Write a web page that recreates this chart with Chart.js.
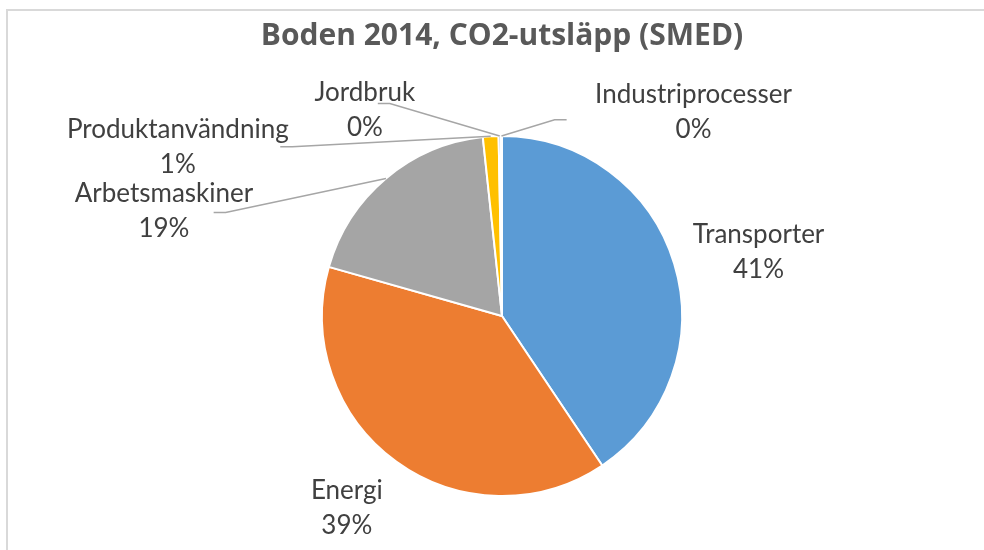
<!DOCTYPE html>
<html>
<head>
<meta charset="utf-8">
<script src="https://cdn.jsdelivr.net/npm/chart.js@4/dist/chart.umd.min.js"></script>
<style>
  html, body { margin: 0; padding: 0; background: #fff; }
  #wrap { width: 984px; height: 550px; position: relative; }
</style>
</head>
<body>
<div id="wrap"><canvas id="pie"></canvas></div>
<script>
// share of CO2 emissions, Boden 2014 (percent)
const categories = ['Transporter', 'Energi', 'Arbetsmaskiner', 'Produktanvändning', 'Jordbruk', 'Industriprocesser'];
const shares = [40.6, 38.8, 18.9, 1.4, 0.2, 0.1];
const pctLabels = ['41%', '39%', '19%', '1%', '0%', '0%'];
const colors = ['#5b9bd5', '#ed7d31', '#a5a5a5', '#ffc000', '#4472c4', '#70ad47'];

// where excel put each label, relative to pie centre in radius units
// line: start of leader line next to the label (null = no line)
const labelLayout = [
  { x: 1.425, y: -0.359, line: null },
  { x: -0.862, y: 1.066, line: null },
  { x: -1.878, y: -0.586, line: { x: -1.602, y: -0.575, dir: 1 } },
  { x: -1.801, y: -0.939, line: { x: -1.232, y: -0.94, dir: 1 } },
  { x: -0.762, y: -1.149, line: { x: -0.69, y: -1.18, dir: 1 } },
  { x: 1.064, y: -1.133, line: { x: 0.359, y: -1.09, dir: -1 } }
];

const labelFont = '26px Lato';
const labelColor = '#404040';

const frame = {
  id: 'frame',
  beforeDraw(chart) {
    const ctx = chart.ctx;
    ctx.save();
    ctx.fillStyle = '#fff';
    ctx.fillRect(0, 0, chart.width, chart.height);
    ctx.strokeStyle = '#d9d9d9';
    ctx.lineWidth = 2;
    ctx.beginPath();
    ctx.moveTo(7, chart.height);
    ctx.lineTo(7, 10);
    ctx.lineTo(chart.width, 10);
    ctx.stroke();
    ctx.restore();
  }
};

const outsideLabels = {
  id: 'outsideLabels',
  afterDatasetsDraw(chart) {
    const ctx = chart.ctx;
    const arcs = chart.getDatasetMeta(0).data;
    ctx.save();
    arcs.forEach((arc, i) => {
      const lay = labelLayout[i];
      const r = arc.outerRadius;
      const cx = arc.x, cy = arc.y;
      if (lay.line) {
        const mid = (arc.startAngle + arc.endAngle) / 2;
        const ex = cx + Math.cos(mid) * r;
        const ey = cy + Math.sin(mid) * r;
        const sx = cx + lay.line.x * r;
        const sy = cy + lay.line.y * r;
        ctx.strokeStyle = '#a6a6a6';
        ctx.lineWidth = 1.5;
        ctx.beginPath();
        ctx.moveTo(sx, sy);
        ctx.lineTo(sx + lay.line.dir * 12, sy);
        ctx.lineTo(ex, ey);
        ctx.stroke();
      }
      const tx = cx + lay.x * r;
      const ty = cy + lay.y * r;
      ctx.fillStyle = labelColor;
      ctx.font = labelFont;
      ctx.textAlign = 'center';
      ctx.textBaseline = 'middle';
      ctx.fillText(categories[i], tx, ty - 17);
      ctx.fillText(pctLabels[i], tx, ty + 18);
    });
    ctx.restore();
  }
};

new Chart(document.getElementById('pie'), {
  type: 'pie',
  data: {
    labels: categories,
    datasets: [{
      data: shares,
      backgroundColor: colors,
      borderColor: '#ffffff',
      borderWidth: 2
    }]
  },
  options: {
    responsive: true,
    maintainAspectRatio: false,
    animation: false,
    layout: { padding: { left: 120, right: 100, top: 0, bottom: 53 } },
    plugins: {
      legend: { display: false },
      tooltip: { enabled: false },
      title: {
        display: true,
        text: 'Boden 2014, CO2-utsläpp (SMED)',
        color: '#595959',
        font: { family: 'Open Sans', size: 30, weight: 'bold', lineHeight: 1.2 },
        padding: { top: 18, bottom: 81 }
      }
    }
  },
  plugins: [frame, outsideLabels]
});
</script>
</body>
</html>
